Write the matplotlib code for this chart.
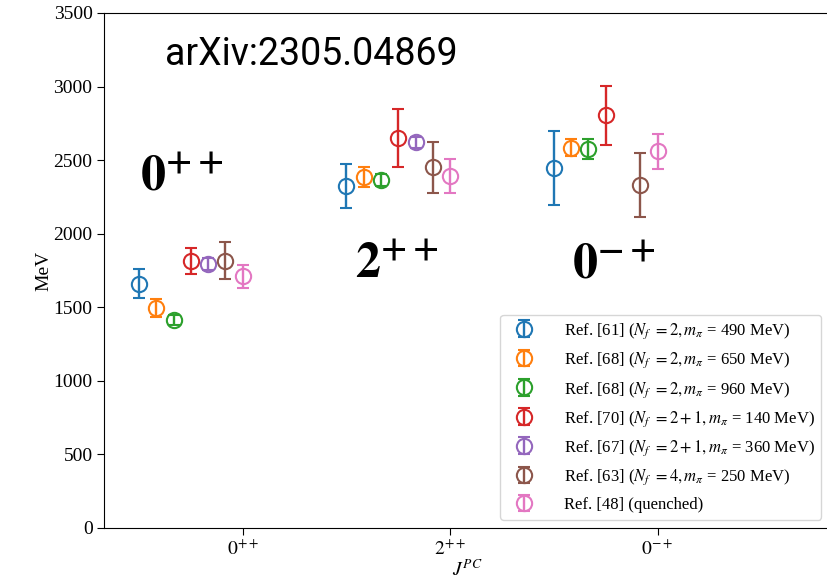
import numpy as np
import matplotlib
matplotlib.use('Agg')
import matplotlib.pyplot as plt

plt.rcParams['font.family'] = ['Liberation Serif', 'DejaVu Serif']
plt.rcParams['mathtext.fontset'] = 'stix'

# glueball states on the x axis
states = [r'$0^{++}$', r'$2^{++}$', r'$0^{-+}$']

labels = [
    r'Ref. [61] ($N_f\ = 2, m_\pi$ = 490 MeV)',
    r'Ref. [68] ($N_f\ = 2, m_\pi$ = 650 MeV)',
    r'Ref. [68] ($N_f\ = 2, m_\pi$ = 960 MeV)',
    r'Ref. [70] ($N_f\ = 2 + 1, m_\pi$ = 140 MeV)',
    r'Ref. [67] ($N_f\ = 2 + 1, m_\pi$ = 360 MeV)',
    r'Ref. [63] ($N_f\ = 4, m_\pi$ = 250 MeV)',
    r'Ref. [48] (quenched)',
]

# masses per state, one entry per reference (nan = not computed)
mass_0pp = [1660, 1495, 1415, 1815, 1795, 1815, 1710]
err_0pp = [100, 60, 35, 90, 40, 125, 77]
mass_2pp = [2325, 2385, 2365, 2650, 2620, 2450, 2390]
err_2pp = [150, 65, 40, 200, 40, 175, 115]
mass_0mp = [2445, 2585, 2575, 2805, np.nan, 2330, 2560]
err_0mp = [250, 55, 65, 200, np.nan, 215, 120]

colors = plt.rcParams['axes.prop_cycle'].by_key()['color']

fig = plt.figure(figsize=(8.28, 5.8), dpi=100)
ax = fig.add_axes([0.126, 0.0897, 0.876, 0.888])

x = np.arange(len(states))
for i in range(len(labels)):
    m = np.array([mass_0pp[i], mass_2pp[i], mass_0mp[i]])
    e = np.array([err_0pp[i], err_2pp[i], err_0mp[i]])
    ax.errorbar(x + (i - 6) / 12, m, yerr=e, fmt='o', color=colors[i],
                mfc='none', ms=11, mew=1.5, elinewidth=1.7, capsize=4,
                capthick=1.7, label=labels[i])

ax.set_xticks(x)
ax.set_xticklabels(states)
ax.set_xlim(-0.667, 2.83)
ax.set_ylim(0, 3500)
ax.tick_params(labelsize=14, length=5)
ax.set_ylabel('MeV', fontsize=14, labelpad=1)
ax.set_xlabel(r'$J^{PC}$', fontsize=14, labelpad=0)

ax.legend(loc='lower right', fontsize=12, labelspacing=0.58,
          handletextpad=1.4)

ax.text(-0.374, 3145, 'arXiv:2305.04869', fontsize=27,
        family=['Roboto', 'DejaVu Sans'])
ax.text(-0.495, 2296, r'$\mathbf{0}^{\mathbf{++}}$', fontsize=36)
ax.text(0.541, 1698, r'$\mathbf{2}^{\mathbf{++}}$', fontsize=36)
ax.text(1.587, 1698, r'$\mathbf{0}^{\mathbf{-+}}$', fontsize=36)

fig.savefig('out.png', dpi=100)
